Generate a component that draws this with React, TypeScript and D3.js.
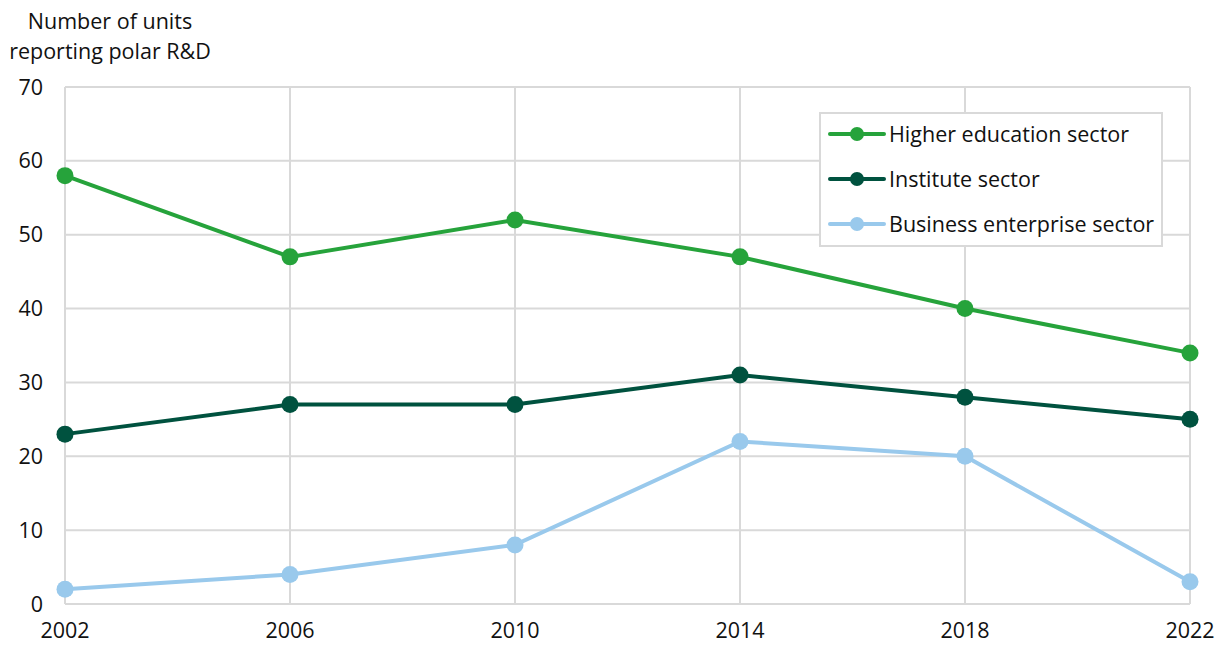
import React, { useEffect, useRef } from 'react';
import * as d3 from 'd3';

const years = [2002, 2006, 2010, 2014, 2018, 2022];
const higherEducation = [58, 47, 52, 47, 40, 34];
const institute = [23, 27, 27, 31, 28, 25];
const business = [2, 4, 8, 22, 20, 3];
const seriesNames = ['Higher education sector', 'Institute sector', 'Business enterprise sector'];
const seriesColors = ['#26a33b', '#00523f', '#99c9ec'];
const yTicks = [0, 10, 20, 30, 40, 50, 60, 70];

const WIDTH = 1217;
const HEIGHT = 646;
const FONT = '"Open Sans", "Noto Sans", sans-serif';
const FS = 21.5;

const App = () => {
  const svgRef = useRef<SVGSVGElement>(null);

  useEffect(() => {
    const svg = d3.select(svgRef.current);
    svg.selectAll('*').remove();
    svg.style('font-family', FONT);

    const x = d3.scaleLinear().domain([2002, 2022]).range([65, 1190]);
    const y = d3.scaleLinear().domain([0, 70]).range([604, 87]);
    const grid = '#d9d9d9';

    // gridlines
    svg.append('g')
      .selectAll('line')
      .data(yTicks)
      .join('line')
        .attr('x1', x(2002)).attr('x2', x(2022))
        .attr('y1', d => y(d)).attr('y2', d => y(d))
        .attr('stroke', grid).attr('stroke-width', 2);
    svg.append('g')
      .selectAll('line')
      .data(years)
      .join('line')
        .attr('x1', d => x(d)).attr('x2', d => x(d))
        .attr('y1', y(0)).attr('y2', y(70))
        .attr('stroke', grid).attr('stroke-width', 2);

    // tick labels
    svg.append('g')
      .selectAll('text')
      .data(yTicks)
      .join('text')
        .attr('x', 43).attr('y', d => y(d))
        .attr('dy', '0.35em')
        .attr('text-anchor', 'end')
        .attr('font-size', FS)
        .attr('fill', '#111')
        .text(d => d);
    svg.append('g')
      .selectAll('text')
      .data(years)
      .join('text')
        .attr('x', d => x(d)).attr('y', 638)
        .attr('text-anchor', 'middle')
        .attr('font-size', FS)
        .attr('fill', '#111')
        .text(d => d);

    // axis title
    const title = svg.append('text')
      .attr('text-anchor', 'middle')
      .attr('font-size', FS)
      .attr('fill', '#111');
    title.append('tspan').attr('x', 110).attr('y', 29).text('Number of units');
    title.append('tspan').attr('x', 110).attr('y', 59).text('reporting polar R&D');

    // series
    const allSeries = [higherEducation, institute, business];
    const line = d3.line<number>()
      .x((_, i) => x(years[i]))
      .y(d => y(d));

    allSeries.forEach((values, s) => {
      svg.append('path')
        .datum(values)
        .attr('d', line)
        .attr('fill', 'none')
        .attr('stroke', seriesColors[s])
        .attr('stroke-width', 4);
      svg.append('g')
        .selectAll('circle')
        .data(values)
        .join('circle')
          .attr('cx', (_, i) => x(years[i]))
          .attr('cy', d => y(d))
          .attr('r', 8.5)
          .attr('fill', seriesColors[s]);
    });

    // legend
    const legend = svg.append('g');
    legend.append('rect')
      .attr('x', 820).attr('y', 113)
      .attr('width', 342).attr('height', 133)
      .attr('fill', 'white')
      .attr('stroke', grid).attr('stroke-width', 2);
    seriesNames.forEach((name, i) => {
      const ly = 134 + i * 45;
      legend.append('line')
        .attr('x1', 830).attr('x2', 884)
        .attr('y1', ly).attr('y2', ly)
        .attr('stroke', seriesColors[i]).attr('stroke-width', 4)
        .attr('stroke-linecap', 'round');
      legend.append('circle')
        .attr('cx', 857).attr('cy', ly).attr('r', 7)
        .attr('fill', seriesColors[i]);
      legend.append('text')
        .attr('x', 889).attr('y', ly)
        .attr('dy', '0.35em')
        .attr('font-size', FS)
        .attr('fill', '#111')
        .text(name);
    });
  }, []);

  return (
    <svg
      ref={svgRef}
      width={WIDTH}
      height={HEIGHT}
      style={{ position: 'absolute', left: 0, top: 0, background: 'white' }}
    />
  );
};

export default App;
